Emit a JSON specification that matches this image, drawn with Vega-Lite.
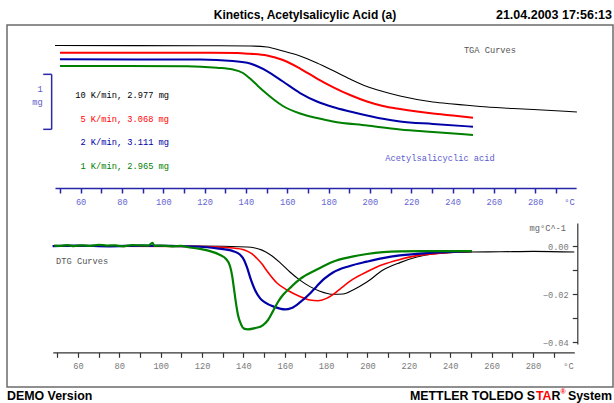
{
  "$schema": "https://vega.github.io/schema/vega-lite/v6.json",
  "width": 606,
  "height": 362,
  "autosize": {"type": "none"},
  "padding": {"left": 7, "top": 25, "right": 1, "bottom": 16},
  "background": "white",
  "config": {
    "view": {"stroke": "#6b6b6b", "strokeWidth": 1.5},
    "axis": {"grid": false}
  },
  "datasets": {
    "tga": [
      {"rate": "10 K/min", "T": 47.6, "m": 2.977}, {"rate": "10 K/min", "T": 117.8, "m": 2.973}, {"rate": "10 K/min", "T": 142, "m": 2.968},
      {"rate": "10 K/min", "T": 150.2, "m": 2.950}, {"rate": "10 K/min", "T": 157.9, "m": 2.877}, {"rate": "10 K/min", "T": 166.2, "m": 2.786},
      {"rate": "10 K/min", "T": 174.4, "m": 2.659}, {"rate": "10 K/min", "T": 182.1, "m": 2.522}, {"rate": "10 K/min", "T": 190.4, "m": 2.368},
      {"rate": "10 K/min", "T": 198.6, "m": 2.232}, {"rate": "10 K/min", "T": 206.3, "m": 2.141}, {"rate": "10 K/min", "T": 214.6, "m": 2.059},
      {"rate": "10 K/min", "T": 222.8, "m": 1.995}, {"rate": "10 K/min", "T": 230.5, "m": 1.950}, {"rate": "10 K/min", "T": 238.8, "m": 1.917},
      {"rate": "10 K/min", "T": 247, "m": 1.890}, {"rate": "10 K/min", "T": 253.3, "m": 1.868}, {"rate": "10 K/min", "T": 269.3, "m": 1.832},
      {"rate": "10 K/min", "T": 285.7, "m": 1.799}, {"rate": "10 K/min", "T": 300.2, "m": 1.768},
      {"rate": "5 K/min", "T": 50, "m": 2.846}, {"rate": "5 K/min", "T": 117.8, "m": 2.846}, {"rate": "5 K/min", "T": 135.7, "m": 2.841},
      {"rate": "5 K/min", "T": 142, "m": 2.826}, {"rate": "5 K/min", "T": 150.2, "m": 2.795}, {"rate": "5 K/min", "T": 157.9, "m": 2.713},
      {"rate": "5 K/min", "T": 166.2, "m": 2.559}, {"rate": "5 K/min", "T": 174.4, "m": 2.377}, {"rate": "5 K/min", "T": 182.1, "m": 2.222},
      {"rate": "5 K/min", "T": 190.4, "m": 2.077}, {"rate": "5 K/min", "T": 198.6, "m": 1.959}, {"rate": "5 K/min", "T": 206.3, "m": 1.877},
      {"rate": "5 K/min", "T": 214.6, "m": 1.822}, {"rate": "5 K/min", "T": 222.8, "m": 1.777}, {"rate": "5 K/min", "T": 230.5, "m": 1.741},
      {"rate": "5 K/min", "T": 240.2, "m": 1.704}, {"rate": "5 K/min", "T": 249.9, "m": 1.664},
      {"rate": "2 K/min", "T": 50, "m": 2.726}, {"rate": "2 K/min", "T": 117.8, "m": 2.722}, {"rate": "2 K/min", "T": 133.7, "m": 2.695},
      {"rate": "2 K/min", "T": 142, "m": 2.650}, {"rate": "2 K/min", "T": 145.8, "m": 2.595}, {"rate": "2 K/min", "T": 150.2, "m": 2.513},
      {"rate": "2 K/min", "T": 157.9, "m": 2.322}, {"rate": "2 K/min", "T": 166.2, "m": 2.113}, {"rate": "2 K/min", "T": 174.4, "m": 1.959},
      {"rate": "2 K/min", "T": 182.1, "m": 1.859}, {"rate": "2 K/min", "T": 190.4, "m": 1.777}, {"rate": "2 K/min", "T": 198.6, "m": 1.704},
      {"rate": "2 K/min", "T": 206.3, "m": 1.644}, {"rate": "2 K/min", "T": 214.6, "m": 1.595}, {"rate": "2 K/min", "T": 230.5, "m": 1.550},
      {"rate": "2 K/min", "T": 249.9, "m": 1.501},
      {"rate": "1 K/min", "T": 50, "m": 2.604}, {"rate": "1 K/min", "T": 111.5, "m": 2.601}, {"rate": "1 K/min", "T": 126, "m": 2.573},
      {"rate": "1 K/min", "T": 133.7, "m": 2.541}, {"rate": "1 K/min", "T": 138.6, "m": 2.477}, {"rate": "1 K/min", "T": 142, "m": 2.377},
      {"rate": "1 K/min", "T": 145.8, "m": 2.241}, {"rate": "1 K/min", "T": 150.2, "m": 2.095}, {"rate": "1 K/min", "T": 154.1, "m": 1.977},
      {"rate": "1 K/min", "T": 157.9, "m": 1.877}, {"rate": "1 K/min", "T": 166.2, "m": 1.741}, {"rate": "1 K/min", "T": 174.4, "m": 1.659},
      {"rate": "1 K/min", "T": 182.1, "m": 1.595}, {"rate": "1 K/min", "T": 198.6, "m": 1.522}, {"rate": "1 K/min", "T": 214.6, "m": 1.450},
      {"rate": "1 K/min", "T": 230.5, "m": 1.404}, {"rate": "1 K/min", "T": 249.9, "m": 1.350}
    ],
    "dtg": [
      {"rate": "10 K/min", "T": 47.8, "d": 0}, {"rate": "10 K/min", "T": 119, "d": 0}, {"rate": "10 K/min", "T": 141.7, "d": -0.0004},
      {"rate": "10 K/min", "T": 145.6, "d": -0.0008}, {"rate": "10 K/min", "T": 149, "d": -0.0017}, {"rate": "10 K/min", "T": 152.8, "d": -0.0035},
      {"rate": "10 K/min", "T": 157.7, "d": -0.0069}, {"rate": "10 K/min", "T": 162.5, "d": -0.0108}, {"rate": "10 K/min", "T": 167.3, "d": -0.0142},
      {"rate": "10 K/min", "T": 172.2, "d": -0.0169}, {"rate": "10 K/min", "T": 177, "d": -0.0188}, {"rate": "10 K/min", "T": 183.3, "d": -0.0201},
      {"rate": "10 K/min", "T": 188.2, "d": -0.0200}, {"rate": "10 K/min", "T": 193, "d": -0.0183}, {"rate": "10 K/min", "T": 199.7, "d": -0.0150},
      {"rate": "10 K/min", "T": 207.5, "d": -0.0100}, {"rate": "10 K/min", "T": 215.7, "d": -0.0069}, {"rate": "10 K/min", "T": 223.9, "d": -0.0046},
      {"rate": "10 K/min", "T": 231.6, "d": -0.0033}, {"rate": "10 K/min", "T": 239.8, "d": -0.0028}, {"rate": "10 K/min", "T": 250.5, "d": -0.0025},
      {"rate": "10 K/min", "T": 264.1, "d": -0.0024}, {"rate": "10 K/min", "T": 280.2, "d": -0.0022}, {"rate": "10 K/min", "T": 300, "d": -0.0025},
      {"rate": "5 K/min", "T": 47.8, "d": 0}, {"rate": "5 K/min", "T": 119, "d": -0.0002}, {"rate": "5 K/min", "T": 135, "d": -0.0008},
      {"rate": "5 K/min", "T": 140.8, "d": -0.0017}, {"rate": "5 K/min", "T": 144.2, "d": -0.0033}, {"rate": "5 K/min", "T": 146.6, "d": -0.0052},
      {"rate": "5 K/min", "T": 149, "d": -0.0075}, {"rate": "5 K/min", "T": 151.4, "d": -0.0104}, {"rate": "5 K/min", "T": 156.2, "d": -0.0154},
      {"rate": "5 K/min", "T": 161.1, "d": -0.0183}, {"rate": "5 K/min", "T": 167.3, "d": -0.0210}, {"rate": "5 K/min", "T": 172.2, "d": -0.0225},
      {"rate": "5 K/min", "T": 176, "d": -0.0228}, {"rate": "5 K/min", "T": 179.9, "d": -0.0219}, {"rate": "5 K/min", "T": 183.3, "d": -0.0202},
      {"rate": "5 K/min", "T": 186.7, "d": -0.0179}, {"rate": "5 K/min", "T": 193, "d": -0.0138}, {"rate": "5 K/min", "T": 199.7, "d": -0.0107},
      {"rate": "5 K/min", "T": 207.5, "d": -0.0077}, {"rate": "5 K/min", "T": 215.7, "d": -0.0056}, {"rate": "5 K/min", "T": 223.9, "d": -0.0040},
      {"rate": "5 K/min", "T": 235, "d": -0.0030}, {"rate": "5 K/min", "T": 250.5, "d": -0.0023},
      {"rate": "2 K/min", "T": 47.8, "d": 0}, {"rate": "2 K/min", "T": 60, "d": 0.0002}, {"rate": "2 K/min", "T": 75, "d": -0.0001}, {"rate": "2 K/min", "T": 90, "d": 0.0002},
      {"rate": "2 K/min", "T": 119, "d": -0.0003}, {"rate": "2 K/min", "T": 127.2, "d": -0.0010},
      {"rate": "2 K/min", "T": 135, "d": -0.0021}, {"rate": "2 K/min", "T": 138.3, "d": -0.0035}, {"rate": "2 K/min", "T": 140.3, "d": -0.0058},
      {"rate": "2 K/min", "T": 141.7, "d": -0.0088}, {"rate": "2 K/min", "T": 143.7, "d": -0.0142}, {"rate": "2 K/min", "T": 145.6, "d": -0.0183},
      {"rate": "2 K/min", "T": 148, "d": -0.0217}, {"rate": "2 K/min", "T": 150.4, "d": -0.0235}, {"rate": "2 K/min", "T": 155.2, "d": -0.0254},
      {"rate": "2 K/min", "T": 160.1, "d": -0.0264}, {"rate": "2 K/min", "T": 163.3, "d": -0.0258}, {"rate": "2 K/min", "T": 167.3, "d": -0.0235},
      {"rate": "2 K/min", "T": 172.2, "d": -0.0198}, {"rate": "2 K/min", "T": 175.5, "d": -0.0167}, {"rate": "2 K/min", "T": 179.3, "d": -0.0135},
      {"rate": "2 K/min", "T": 183.3, "d": -0.0110}, {"rate": "2 K/min", "T": 191.5, "d": -0.0083}, {"rate": "2 K/min", "T": 199.7, "d": -0.0065},
      {"rate": "2 K/min", "T": 207.5, "d": -0.0050}, {"rate": "2 K/min", "T": 215.7, "d": -0.0039}, {"rate": "2 K/min", "T": 231.6, "d": -0.0028},
      {"rate": "2 K/min", "T": 250.5, "d": -0.0021},
      {"rate": "1 K/min", "T": 48.5, "d": 0.0002}, {"rate": "1 K/min", "T": 52, "d": 0.0001}, {"rate": "1 K/min", "T": 55, "d": 0.0004},
      {"rate": "1 K/min", "T": 58, "d": 0.0}, {"rate": "1 K/min", "T": 62, "d": 0.0003}, {"rate": "1 K/min", "T": 66, "d": 0.0001},
      {"rate": "1 K/min", "T": 70, "d": 0.0005}, {"rate": "1 K/min", "T": 74, "d": 0.0002}, {"rate": "1 K/min", "T": 78, "d": 0.0003},
      {"rate": "1 K/min", "T": 82, "d": -0.0001}, {"rate": "1 K/min", "T": 86, "d": 0.0004}, {"rate": "1 K/min", "T": 90, "d": 0.0003},
      {"rate": "1 K/min", "T": 94, "d": 0.0002}, {"rate": "1 K/min", "T": 96, "d": 0.0013}, {"rate": "1 K/min", "T": 97, "d": 0.0001},
      {"rate": "1 K/min", "T": 100, "d": 0.0002}, {"rate": "1 K/min", "T": 105, "d": -0.0001}, {"rate": "1 K/min", "T": 110, "d": 0.0001},
      {"rate": "1 K/min", "T": 112.7, "d": -0.0004}, {"rate": "1 K/min", "T": 119, "d": -0.0012}, {"rate": "1 K/min", "T": 123.8, "d": -0.0021},
      {"rate": "1 K/min", "T": 128.7, "d": -0.0037}, {"rate": "1 K/min", "T": 131.6, "d": -0.0054}, {"rate": "1 K/min", "T": 133.5, "d": -0.0083},
      {"rate": "1 K/min", "T": 134.5, "d": -0.0121}, {"rate": "1 K/min", "T": 135.4, "d": -0.0175}, {"rate": "1 K/min", "T": 136.4, "d": -0.0238},
      {"rate": "1 K/min", "T": 137.4, "d": -0.0288}, {"rate": "1 K/min", "T": 138.8, "d": -0.0325}, {"rate": "1 K/min", "T": 140.3, "d": -0.0344},
      {"rate": "1 K/min", "T": 142.2, "d": -0.0347}, {"rate": "1 K/min", "T": 145.6, "d": -0.0342}, {"rate": "1 K/min", "T": 149.5, "d": -0.0329},
      {"rate": "1 K/min", "T": 151.9, "d": -0.0308}, {"rate": "1 K/min", "T": 154.3, "d": -0.0271}, {"rate": "1 K/min", "T": 156.7, "d": -0.0233},
      {"rate": "1 K/min", "T": 159.1, "d": -0.0204}, {"rate": "1 K/min", "T": 162.5, "d": -0.0175}, {"rate": "1 K/min", "T": 167.3, "d": -0.0138},
      {"rate": "1 K/min", "T": 175.5, "d": -0.0098}, {"rate": "1 K/min", "T": 183.3, "d": -0.0065}, {"rate": "1 K/min", "T": 191.5, "d": -0.0046},
      {"rate": "1 K/min", "T": 199.7, "d": -0.0033}, {"rate": "1 K/min", "T": 207.5, "d": -0.0025}, {"rate": "1 K/min", "T": 215.7, "d": -0.0022},
      {"rate": "1 K/min", "T": 231.6, "d": -0.0021}, {"rate": "1 K/min", "T": 250.5, "d": -0.0021}
    ],
    "samples": [
      {"rate": "10 K/min", "label": "10 K/min, 2.977 mg", "T": 102.8, "m": 2.077},
      {"rate": "5 K/min", "label": "5 K/min, 3.068 mg", "T": 102.8, "m": 1.635},
      {"rate": "2 K/min", "label": "2 K/min, 3.111 mg", "T": 102.8, "m": 1.228},
      {"rate": "1 K/min", "label": "1 K/min, 2.965 mg", "T": 102.8, "m": 0.786}
    ],
    "bracket": [
      {"T": 45.98, "T2": 45.98, "m": 2.453, "m2": 1.453},
      {"T": 41.9, "T2": 45.98, "m": 2.453, "m2": 2.453},
      {"T": 41.9, "T2": 45.98, "m": 1.453, "m2": 1.453}
    ]
  },
  "layer": [
    {
      "encoding": {
        "x": {"field": "T", "type": "quantitative",
          "scale": {"domain": [47.6, 299.8], "range": [48, 569.1], "nice": false, "zero": false},
          "axis": {"orient": "bottom", "offset": -199, "title": null,
            "values": [50, 60, 70, 80, 90, 100, 110, 120, 130, 140, 150, 160, 170, 180, 190, 200, 210, 220, 230, 240, 250, 260, 270, 280, 290],
            "labelExpr": "datum.value % 20 == 0 ? datum.label : ''",
            "domainColor": "#2626a6", "domainWidth": 1.5, "tickColor": "#2626a6", "tickWidth": 1.5, "tickSize": 5,
            "labelColor": "#6565d2", "labelFont": "Liberation Mono", "labelFontSize": 8.7, "labelPadding": 4, "labelFlush": false}},
        "y": {"field": "m", "type": "quantitative",
          "scale": {"domain": [-3.232, 3.35], "nice": false, "zero": false}, "axis": null}
      },
      "layer": [
        {
          "data": {"name": "tga"},
          "mark": {"type": "line", "interpolate": "monotone"},
          "encoding": {
            "color": {"field": "rate", "type": "nominal",
              "scale": {"domain": ["10 K/min", "5 K/min", "2 K/min", "1 K/min"], "range": ["#000000", "#ff0000", "#0000a8", "#008000"]},
              "legend": null},
            "strokeWidth": {"condition": {"test": "datum.rate === '10 K/min'", "value": 1.1}, "value": 2}
          }
        },
        {
          "data": {"name": "samples"},
          "mark": {"type": "text", "align": "right", "baseline": "middle", "font": "Liberation Mono", "fontSize": 8.7},
          "encoding": {
            "text": {"field": "label"},
            "color": {"field": "rate", "type": "nominal", "legend": null}
          }
        },
        {
          "data": {"name": "bracket"},
          "mark": {"type": "rule", "color": "#2a2aa8", "strokeWidth": 1.5},
          "encoding": {"x2": {"field": "T2"}, "y2": {"field": "m2"}}
        },
        {
          "data": {"values": [{"label": "1", "T": 41.6, "m": 2.186}, {"label": "mg", "T": 41.6, "m": 1.941}]},
          "mark": {"type": "text", "align": "right", "baseline": "middle", "font": "Liberation Mono", "fontSize": 8.7, "color": "#5a5ac8"},
          "encoding": {"text": {"field": "label"}}
        },
        {
          "data": {"values": [{"label": "Acetylsalicyclic acid", "T": 233.9, "m": 0.937}, {"label": "°C", "T": 296.6, "m": 0.1315}]},
          "mark": {"type": "text", "align": "center", "baseline": "middle", "font": "Liberation Mono", "fontSize": 8.7, "color": "#5a5ad0"},
          "encoding": {"text": {"field": "label"}}
        },
        {
          "data": {"values": [{"label": "TGA Curves", "T": 258.1, "m": 2.895}]},
          "mark": {"type": "text", "align": "center", "baseline": "middle", "font": "Liberation Mono", "fontSize": 8.7, "color": "#555555"},
          "encoding": {"text": {"field": "label"}}
        },
        {
          "data": {"values": [{"label": "Kinetics, Acetylsalicylic Acid (a)", "T": 168.6, "m": 3.532}]},
          "mark": {"type": "text", "align": "center", "baseline": "middle", "font": "Liberation Sans", "fontWeight": "bold", "fontSize": 12, "color": "#000000"},
          "encoding": {"text": {"field": "label"}}
        },
        {
          "data": {"values": [{"label": "21.04.2003 17:56:13", "T": 317.18, "m": 3.532}]},
          "mark": {"type": "text", "align": "right", "baseline": "middle", "font": "Liberation Sans", "fontWeight": "bold", "fontSize": 12.5, "color": "#000000"},
          "encoding": {"text": {"field": "label"}}
        },
        {
          "data": {"values": [
            {"label": " System", "T": 317.18, "m": -3.387},
            {"label": "R", "T": 292.2, "m": -3.387},
            {"label": "METTLER TOLEDO S", "T": 279.9, "m": -3.387}
          ]},
          "mark": {"type": "text", "align": "right", "baseline": "middle", "font": "Liberation Sans", "fontWeight": "bold", "fontSize": 12.4, "color": "#000000"},
          "encoding": {"text": {"field": "label"}}
        },
        {
          "data": {"values": [{"label": "TA", "T": 287.9, "m": -3.387}]},
          "mark": {"type": "text", "align": "right", "baseline": "middle", "font": "Liberation Sans", "fontWeight": "bold", "fontSize": 12.4, "color": "#ff0000"},
          "encoding": {"text": {"field": "label"}}
        },
        {
          "data": {"values": [{"label": "®", "T": 294.8, "m": -3.387}]},
          "mark": {"type": "text", "align": "right", "baseline": "middle", "font": "Liberation Sans", "fontWeight": "bold", "fontSize": 7, "dy": -4, "color": "#ff0000"},
          "encoding": {"text": {"field": "label"}}
        },
        {
          "data": {"values": [{"label": "DEMO Version", "T": 24.35, "m": -3.387}]},
          "mark": {"type": "text", "align": "left", "baseline": "middle", "font": "Liberation Sans", "fontWeight": "bold", "fontSize": 12.4, "color": "#000000"},
          "encoding": {"text": {"field": "label"}}
        }
      ]
    },
    {
      "encoding": {
        "x": {"field": "T", "type": "quantitative",
          "scale": {"domain": [47.8, 300], "range": [45.75, 567.3], "nice": false, "zero": false},
          "axis": {"orient": "bottom", "offset": -34.7, "title": null,
            "values": [50, 60, 70, 80, 90, 100, 110, 120, 130, 140, 150, 160, 170, 180, 190, 200, 210, 220, 230, 240, 250, 260, 270, 280, 290],
            "labelExpr": "datum.value % 20 == 0 ? datum.label : ''",
            "domainColor": "#333333", "domainWidth": 1.3, "tickColor": "#333333", "tickWidth": 1.2, "tickSize": 5,
            "labelColor": "#7a7a7a", "labelFont": "Liberation Mono", "labelFontSize": 8.7, "labelPadding": 4, "labelFlush": false}},
        "y": {"field": "d", "type": "quantitative",
          "scale": {"domain": [-0.0408, 0.0096], "range": [319, 198], "nice": false, "zero": false},
          "axis": {"orient": "left", "offset": -570.3, "title": null,
            "values": [-0.04, -0.03, -0.02, -0.01, 0],
            "format": ".2f",
            "labelExpr": "abs(round(datum.value * 100)) % 2 == 0 ? datum.label : ''",
            "domainColor": "#333333", "domainWidth": 1.2, "tickColor": "#333333", "tickWidth": 1.2, "tickSize": 5,
            "labelColor": "#7a7a7a", "labelFont": "Liberation Mono", "labelFontSize": 8.7, "labelPadding": 4, "labelFlush": false}}
      },
      "layer": [
        {
          "data": {"name": "dtg"},
          "mark": {"type": "line", "interpolate": "monotone"},
          "encoding": {
            "color": {"field": "rate", "type": "nominal", "legend": null},
            "strokeWidth": {"condition": [
              {"test": "datum.rate === '10 K/min'", "value": 1.1},
              {"test": "datum.rate === '5 K/min'", "value": 1.6}
            ], "value": 2.2}
          }
        },
        {
          "data": {"values": [{"label": "DTG Curves", "T": 49.4, "d": -0.00625}]},
          "mark": {"type": "text", "align": "left", "baseline": "middle", "font": "Liberation Mono", "fontSize": 8.7, "color": "#555555"},
          "encoding": {"text": {"field": "label"}}
        },
        {
          "data": {"values": [{"label": "mg°C^-1", "T": 296.0, "d": 0.00763}]},
          "mark": {"type": "text", "align": "right", "baseline": "middle", "font": "Liberation Mono", "fontSize": 8.7, "color": "#666666"},
          "encoding": {"text": {"field": "label"}}
        },
        {
          "data": {"values": [{"label": "°C", "T": 297.2, "d": -0.0499}]},
          "mark": {"type": "text", "align": "center", "baseline": "middle", "font": "Liberation Mono", "fontSize": 8.7, "color": "#7a7a7a"},
          "encoding": {"text": {"field": "label"}}
        }
      ]
    }
  ],
  "resolve": {
    "scale": {"x": "independent", "y": "independent"},
    "axis": {"x": "independent", "y": "independent"}
  }
}
